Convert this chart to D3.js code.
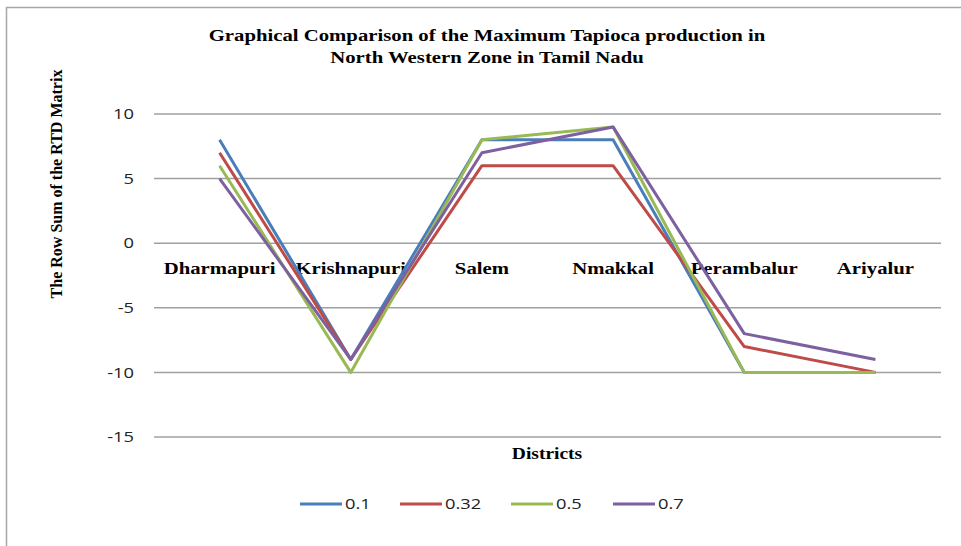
<!DOCTYPE html>
<html>
<head>
<meta charset="utf-8">
<script src="https://cdn.jsdelivr.net/npm/d3@7"></script>
<style>
  body { margin: 0; background: #fff; }
  svg { display: block; }
</style>
</head>
<body>
<div id="chart"></div>
<script>
// data
const districts = ['Dharmapuri', 'Krishnapuri', 'Salem', 'Nmakkal', 'Perambalur', 'Ariyalur'];
const seriesNames = ['0.1', '0.32', '0.5', '0.7'];
const values01 = [8, -9, 8, 8, -10, -10];
const values032 = [7, -9, 6, 6, -8, -10];
const values05 = [6, -10, 8, 9, -10, -10];
const values07 = [5, -9, 7, 9, -7, -9];
const yTicks = [10, 5, 0, -5, -10, -15];

const colors = ['#4a7ebb', '#be4b48', '#98b954', '#7d60a0'];
const series = [values01, values032, values05, values07];

const width = 961, height = 546;
const left = 154, right = 941;
// the original picture is a bit stretched sideways, text too
const stretch = 1.22;
const at = (px, py) => `translate(${px},${py}) scale(${stretch},1)`;

const svg = d3.select('#chart').append('svg')
    .attr('width', width)
    .attr('height', height);

// outer frame (only top and left edges visible)
svg.append('path')
    .attr('d', `M6.5,${height} V7.5 H${width}`)
    .attr('fill', 'none')
    .attr('stroke', '#a6a6a6')
    .attr('stroke-width', 1.5);

const x = d3.scaleBand()
    .domain(districts)
    .range([left, right]);

const y = d3.scaleLinear()
    .domain([-15, 10])
    .range([437, 114]);

// gridlines
svg.append('g')
    .selectAll('line')
    .data(yTicks)
    .enter()
    .append('line')
    .attr('x1', left)
    .attr('x2', right)
    .attr('y1', d => y(d))
    .attr('y2', d => y(d))
    .attr('stroke', '#a0a0a0')
    .attr('stroke-width', 1.5);

// y tick labels (plain hyphen like the original)
svg.append('g')
    .selectAll('text')
    .data(yTicks)
    .enter()
    .append('text')
    .attr('transform', d => at(134, y(d)))
    .attr('dy', '0.35em')
    .attr('text-anchor', 'end')
    .attr('font-family', 'Open Sans, Liberation Sans, sans-serif')
    .attr('font-size', 15)
    .attr('fill', '#222')
    .text(d => String(d));

// category labels sit just under the zero line
svg.append('g')
    .selectAll('text')
    .data(districts)
    .enter()
    .append('text')
    .attr('transform', d => at(x(d) + x.bandwidth() / 2, y(0) + 31))
    .attr('text-anchor', 'middle')
    .attr('font-family', 'Liberation Serif, serif')
    .attr('font-weight', 'bold')
    .attr('font-size', 17)
    .text(d => d);

// lines
const line = d3.line()
    .x((d, i) => x(districts[i]) + x.bandwidth() / 2)
    .y(d => y(d));

svg.append('g')
    .selectAll('path')
    .data(series)
    .enter()
    .append('path')
    .attr('d', d => line(d))
    .attr('fill', 'none')
    .attr('stroke', (d, i) => colors[i])
    .attr('stroke-width', 3)
    .attr('stroke-linejoin', 'round');

// title
const titleLines = ['Graphical Comparison of the Maximum Tapioca production in',
                    'North Western Zone in Tamil Nadu'];
svg.append('g')
    .selectAll('text')
    .data(titleLines)
    .enter()
    .append('text')
    .attr('transform', (d, i) => at(487, 41 + i * 22))
    .attr('text-anchor', 'middle')
    .attr('font-family', 'Liberation Serif, serif')
    .attr('font-weight', 'bold')
    .attr('font-size', 17)
    .text(d => d);

// axis titles
svg.append('text')
    .attr('transform', 'translate(62,184) rotate(-90)')
    .attr('text-anchor', 'middle')
    .attr('font-family', 'Liberation Serif, serif')
    .attr('font-weight', 'bold')
    .attr('font-size', 16)
    .text('The Row Sum of the RTD Matrix');

svg.append('text')
    .attr('transform', at(547, 459))
    .attr('text-anchor', 'middle')
    .attr('font-family', 'Liberation Serif, serif')
    .attr('font-weight', 'bold')
    .attr('font-size', 16)
    .text('Districts');

// legend
const legendX = [300, 400, 511, 613];
const legend = svg.append('g')
    .selectAll('g')
    .data(seriesNames)
    .enter()
    .append('g')
    .attr('transform', (d, i) => `translate(${legendX[i]},504)`);
legend.append('line')
    .attr('x1', 0).attr('x2', 42)
    .attr('stroke', (d, i) => colors[i])
    .attr('stroke-width', 3);
legend.append('text')
    .attr('transform', at(45, 0))
    .attr('dy', '0.35em')
    .attr('font-family', 'Open Sans, Liberation Sans, sans-serif')
    .attr('font-size', 15)
    .attr('fill', '#222')
    .text(d => d);
</script>
</body>
</html>
